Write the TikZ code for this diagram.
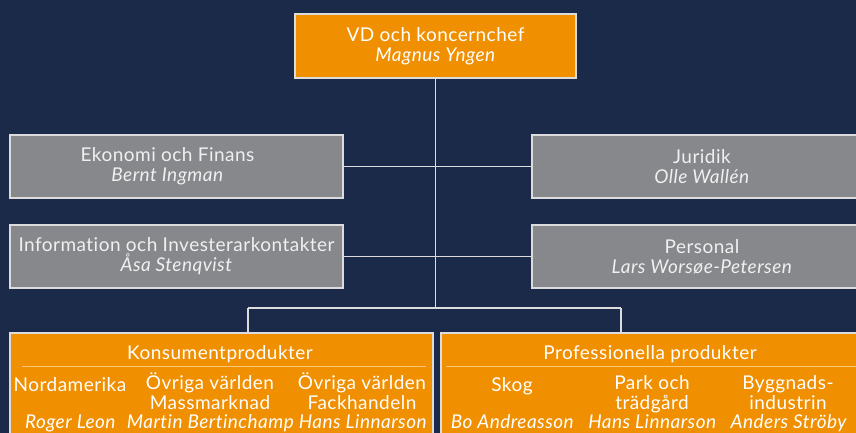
\documentclass[tikz,border=0pt]{standalone}
\usepackage{fontspec}
\setmainfont{Lato}[LetterSpace=2.5, Ligatures=NoCommon]
\usetikzlibrary{positioning,calc}
\definecolor{navy}{HTML}{1B2A48}
\definecolor{boxorange}{HTML}{F08F00}
\definecolor{boxgray}{HTML}{87888C}
\definecolor{rimgray}{HTML}{DCDCDC}
\definecolor{seporange}{HTML}{F8C77A}

\begin{document}
\begin{tikzpicture}[
      x=1pt, y=-1pt,
      font=\fontsize{19}{20}\selectfont
    ]

    \tikzstyle{chief} = [rectangle, minimum width=281pt, minimum height=64pt, align=center, draw=rimgray, line width=1.2pt, fill=boxorange, text=white]
    \tikzstyle{staff} = [rectangle, minimum height=63pt, align=center, draw=rimgray, line width=1.2pt, fill=boxgray, text=white!94!black]
    \tikzstyle{division} = [rectangle, minimum height=114pt, draw=rimgray, line width=1.2pt, fill=boxorange]
    \tikzstyle{unit} = [align=center, text=white, inner sep=0pt, anchor=base]
    \tikzstyle{line} = [draw=rimgray, line width=1.2pt]
    \tikzstyle{divider} = [draw=seporange, line width=1.2pt]

    \fill [navy] (0,0) rectangle (856,433);
    \useasboundingbox (0,0) rectangle (856,433);

    \node [chief] (ceo) at (435.5,46) {
    	VD och koncernchef\\\textit{Magnus Yngen}
        };
    \node [staff, minimum width=333pt] (finance) at (176.5,166.5) {
    	Ekonomi och Finans\hspace*{18pt}\\\textit{Bernt Ingman}\hspace*{18pt}
        };
    \node [staff, minimum width=333pt] (ir) at (176.5,256.5) {
    	Information och Investerarkontakter\\\textit{Åsa Stenqvist}
        };
    \node [staff, minimum width=340pt] (legal) at (702,166.5) {
    	Juridik\\\textit{Olle Wallén}
        };
    \node [staff, minimum width=340pt] (hr) at (702,256.5) {
    	Personal\\\textit{Lars Worsøe-Petersen}
        };

    \node [division, minimum width=423pt] (consumer) at (221.5,390) {};
    \node [division, minimum width=420pt] (pro) at (651,390) {};

    \coordinate (bus) at (ceo.south |- 0,308);
    \coordinate (busL) at (248,308);
    \coordinate (busR) at (621,308);

    \draw [line] (ceo.south) -- (bus);
    \draw [line] (finance.east) -- (legal.west);
    \draw [line] (ir.east) -- (hr.west);
    \draw [line] (busL) -- (busR);
    \draw [line] (busL) -- (busL |- consumer.north);
    \draw [line] (busR) -- (busR |- pro.north);

    \draw [divider] ($(consumer.north west)+(13,34)$) -- ($(consumer.north east)+(-8,34)$);
    \draw [divider] ($(pro.north west)+(6,34)$) -- ($(pro.north east)+(-4,34)$);

    \node [unit] (consumerHead) at (220,359) {Konsumentprodukter};
    \node [unit] (proHead) at (650,359) {Professionella produkter};

    \node [unit] (nam) at (70,391) {Nordamerika};
    \node [unit] (mass) at (210,409) {Övriga världen\\Massmarknad};
    \node [unit] (trade) at (362,409) {Övriga världen\\Fackhandeln};
    \node [unit] (forest) at (512,391) {Skog};
    \node [unit] (garden) at (652,409) {Park och\\trädgård};
    \node [unit] (build) at (788,409) {Byggnads-\\industrin};

    \node [unit] (namBoss) at (70.5,428) {\textit{Roger Leon}};
    \node [unit] (massBoss) at (210.5,428) {\textit{Martin Bertinchamp}};
    \node [unit] (tradeBoss) at (363,428) {\textit{Hans Linnarson}};
    \node [unit] (forestBoss) at (512.5,428) {\textit{Bo Andreasson}};
    \node [unit] (gardenBoss) at (652.5,428) {\textit{Hans Linnarson}};
    \node [unit] (buildBoss) at (789,428) {\textit{Anders Ströby}};

\end{tikzpicture}
\end{document}
